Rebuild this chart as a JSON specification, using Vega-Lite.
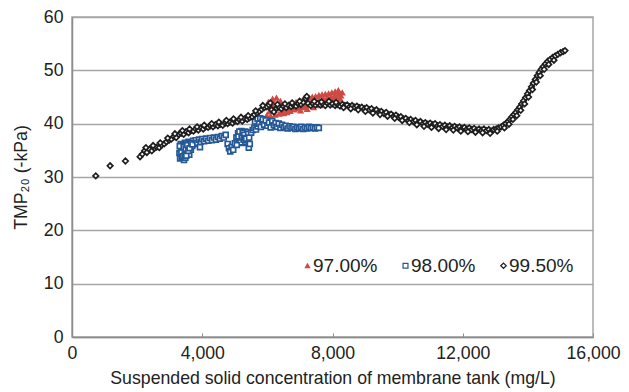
{
  "$schema": "https://vega.github.io/schema/vega-lite/v6.json",
  "width": 521,
  "height": 320,
  "autosize": {"type": "none"},
  "padding": {"left": 72, "top": 17, "right": 36, "bottom": 55},
  "background": "white",
  "config": {
    "font": "Liberation Sans",
    "view": {"stroke": "#a6a6a6", "strokeWidth": 1.5},
    "axis": {"labelColor": "#222222", "titleColor": "#222222", "labelFont": "Liberation Sans", "titleFont": "Liberation Sans", "titleFontWeight": "normal"},
    "legend": {"title": null, "orient": "none", "legendX": 226, "legendY": 239, "direction": "horizontal", "labelFontSize": 19, "labelColor": "#222222", "labelOffset": -4, "columnPadding": 18, "padding": 0, "symbolStrokeWidth": 1.2}
  },
  "data": {
    "values": [
      {"s":"97.00%","x":5980,"y":41.5},{"s":"97.00%","x":6000,"y":43.0},{"s":"97.00%","x":6030,"y":44.0},{"s":"97.00%","x":6060,"y":42.2},
      {"s":"97.00%","x":6100,"y":41.4},{"s":"97.00%","x":6130,"y":43.6},{"s":"97.00%","x":6160,"y":44.6},{"s":"97.00%","x":6200,"y":42.5},
      {"s":"97.00%","x":6240,"y":41.6},{"s":"97.00%","x":6280,"y":44.8},{"s":"97.00%","x":6320,"y":43.0},{"s":"97.00%","x":6360,"y":41.8},
      {"s":"97.00%","x":6400,"y":44.2},{"s":"97.00%","x":6450,"y":42.2},{"s":"97.00%","x":6500,"y":41.9},{"s":"97.00%","x":6550,"y":42.5},
      {"s":"97.00%","x":6600,"y":42.1},{"s":"97.00%","x":6650,"y":42.6},{"s":"97.00%","x":6700,"y":42.3},{"s":"97.00%","x":6760,"y":42.9},
      {"s":"97.00%","x":6820,"y":42.6},{"s":"97.00%","x":6880,"y":43.1},{"s":"97.00%","x":6940,"y":42.8},{"s":"97.00%","x":7000,"y":43.3},
      {"s":"97.00%","x":7060,"y":43.0},{"s":"97.00%","x":7120,"y":43.6},{"s":"97.00%","x":7180,"y":43.2},{"s":"97.00%","x":7240,"y":43.8},
      {"s":"97.00%","x":7300,"y":43.5},{"s":"97.00%","x":7360,"y":44.0},{"s":"97.00%","x":7420,"y":43.7},{"s":"97.00%","x":7480,"y":44.2},
      {"s":"97.00%","x":7540,"y":43.9},{"s":"97.00%","x":7600,"y":44.4},{"s":"97.00%","x":7660,"y":44.1},{"s":"97.00%","x":7720,"y":44.6},
      {"s":"97.00%","x":7780,"y":44.3},{"s":"97.00%","x":7840,"y":44.8},{"s":"97.00%","x":7900,"y":44.5},{"s":"97.00%","x":7960,"y":45.0},
      {"s":"97.00%","x":8020,"y":44.7},{"s":"97.00%","x":8080,"y":45.3},{"s":"97.00%","x":8140,"y":45.0},{"s":"97.00%","x":8200,"y":45.6},
      {"s":"97.00%","x":8260,"y":45.2},{"s":"97.00%","x":8300,"y":45.8},
      {"s":"97.00%","x":6580,"y":43.2},{"s":"97.00%","x":6680,"y":43.5},{"s":"97.00%","x":6780,"y":43.7},{"s":"97.00%","x":6880,"y":44.0},
      {"s":"97.00%","x":6980,"y":44.2},{"s":"97.00%","x":7080,"y":44.4},{"s":"97.00%","x":7180,"y":44.6},{"s":"97.00%","x":7280,"y":44.8},
      {"s":"97.00%","x":7380,"y":45.0},{"s":"97.00%","x":7480,"y":45.1},{"s":"97.00%","x":7580,"y":45.3},{"s":"97.00%","x":7680,"y":45.4},
      {"s":"97.00%","x":7780,"y":45.5},{"s":"97.00%","x":7880,"y":45.6},{"s":"97.00%","x":7980,"y":45.8},{"s":"97.00%","x":8080,"y":46.0},
      {"s":"97.00%","x":8180,"y":46.2},{"s":"97.00%","x":8240,"y":44.6},{"s":"97.00%","x":7020,"y":42.4},{"s":"97.00%","x":7220,"y":42.7},
      {"s":"97.00%","x":7420,"y":43.0},{"s":"97.00%","x":7620,"y":43.4},{"s":"97.00%","x":7820,"y":43.8},{"s":"97.00%","x":8020,"y":44.1},
      {"s":"97.00%","x":6420,"y":43.4},{"s":"97.00%","x":6180,"y":43.9},{"s":"97.00%","x":6260,"y":43.0},

      {"s":"98.00%","x":3300,"y":34.5},{"s":"98.00%","x":3320,"y":33.5},{"s":"98.00%","x":3340,"y":36.2},{"s":"98.00%","x":3350,"y":35.2},
      {"s":"98.00%","x":3370,"y":33.8},{"s":"98.00%","x":3390,"y":34.9},{"s":"98.00%","x":3400,"y":36.0},{"s":"98.00%","x":3420,"y":34.4},
      {"s":"98.00%","x":3440,"y":33.2},{"s":"98.00%","x":3450,"y":35.0},{"s":"98.00%","x":3470,"y":36.4},{"s":"98.00%","x":3480,"y":33.6},
      {"s":"98.00%","x":3500,"y":36.3},{"s":"98.00%","x":3520,"y":35.5},{"s":"98.00%","x":3530,"y":34.8},{"s":"98.00%","x":3560,"y":35.6},
      {"s":"98.00%","x":3580,"y":36.6},{"s":"98.00%","x":3600,"y":34.2},{"s":"98.00%","x":3620,"y":36.5},{"s":"98.00%","x":3640,"y":35.6},
      {"s":"98.00%","x":3650,"y":35.1},{"s":"98.00%","x":3690,"y":35.8},{"s":"98.00%","x":3720,"y":36.8},{"s":"98.00%","x":3760,"y":36.2},
      {"s":"98.00%","x":3310,"y":35.8},{"s":"98.00%","x":3360,"y":34.6},{"s":"98.00%","x":3410,"y":33.9},{"s":"98.00%","x":3430,"y":35.6},
      {"s":"98.00%","x":3460,"y":34.2},{"s":"98.00%","x":3490,"y":35.3},{"s":"98.00%","x":3510,"y":34.0},{"s":"98.00%","x":3540,"y":36.0},
      {"s":"98.00%","x":3570,"y":34.9},{"s":"98.00%","x":3610,"y":35.4},{"s":"98.00%","x":3660,"y":36.3},{"s":"98.00%","x":3700,"y":36.1},
      {"s":"98.00%","x":3800,"y":36.9},{"s":"98.00%","x":3850,"y":36.4},{"s":"98.00%","x":3900,"y":37.0},{"s":"98.00%","x":3930,"y":35.6},
      {"s":"98.00%","x":3950,"y":36.6},{"s":"98.00%","x":4000,"y":37.1},{"s":"98.00%","x":4060,"y":36.7},{"s":"98.00%","x":4120,"y":37.2},
      {"s":"98.00%","x":4180,"y":36.8},{"s":"98.00%","x":4240,"y":37.3},{"s":"98.00%","x":4300,"y":36.9},{"s":"98.00%","x":4360,"y":37.4},
      {"s":"98.00%","x":4420,"y":37.0},{"s":"98.00%","x":4480,"y":37.5},{"s":"98.00%","x":4540,"y":37.2},{"s":"98.00%","x":4600,"y":37.7},
      {"s":"98.00%","x":4660,"y":37.4},{"s":"98.00%","x":4720,"y":37.9},{"s":"98.00%","x":4780,"y":36.2},{"s":"98.00%","x":4820,"y":35.4},
      {"s":"98.00%","x":4860,"y":34.8},{"s":"98.00%","x":4900,"y":35.6},{"s":"98.00%","x":4950,"y":35.1},{"s":"98.00%","x":5000,"y":36.3},
      {"s":"98.00%","x":5050,"y":37.4},{"s":"98.00%","x":5080,"y":36.6},{"s":"98.00%","x":5100,"y":38.2},{"s":"98.00%","x":5130,"y":36.8},
      {"s":"98.00%","x":5160,"y":37.8},{"s":"98.00%","x":5180,"y":37.1},{"s":"98.00%","x":5200,"y":38.6},{"s":"98.00%","x":5230,"y":37.2},
      {"s":"98.00%","x":5250,"y":36.4},{"s":"98.00%","x":5260,"y":38.0},{"s":"98.00%","x":5300,"y":36.6},{"s":"98.00%","x":5320,"y":38.5},
      {"s":"98.00%","x":5330,"y":37.6},{"s":"98.00%","x":5360,"y":38.4},{"s":"98.00%","x":5380,"y":36.9},{"s":"98.00%","x":5400,"y":37.0},
      {"s":"98.00%","x":5110,"y":37.6},{"s":"98.00%","x":5140,"y":38.5},{"s":"98.00%","x":5170,"y":36.5},{"s":"98.00%","x":5210,"y":37.5},
      {"s":"98.00%","x":5240,"y":38.3},{"s":"98.00%","x":5270,"y":37.0},{"s":"98.00%","x":5290,"y":37.9},{"s":"98.00%","x":5310,"y":37.3},
      {"s":"98.00%","x":5350,"y":37.2},{"s":"98.00%","x":5410,"y":38.1},{"s":"98.00%","x":5440,"y":37.4},{"s":"98.00%","x":5060,"y":36.0},
      {"s":"98.00%","x":5430,"y":35.5},{"s":"98.00%","x":5460,"y":36.2},{"s":"98.00%","x":5500,"y":38.3},{"s":"98.00%","x":5550,"y":38.8},
      {"s":"98.00%","x":5600,"y":39.2},{"s":"98.00%","x":5620,"y":40.4},{"s":"98.00%","x":5650,"y":38.9},{"s":"98.00%","x":5700,"y":39.5},
      {"s":"98.00%","x":5700,"y":40.9},{"s":"98.00%","x":5750,"y":40.0},{"s":"98.00%","x":5780,"y":41.0},{"s":"98.00%","x":5800,"y":39.4},
      {"s":"98.00%","x":5850,"y":40.3},{"s":"98.00%","x":5860,"y":40.8},{"s":"98.00%","x":5900,"y":39.8},{"s":"98.00%","x":5950,"y":40.6},
      {"s":"98.00%","x":6000,"y":39.6},{"s":"98.00%","x":6050,"y":40.2},{"s":"98.00%","x":6100,"y":39.3},{"s":"98.00%","x":6150,"y":40.5},
      {"s":"98.00%","x":6200,"y":39.7},{"s":"98.00%","x":6250,"y":40.1},{"s":"98.00%","x":6300,"y":39.4},{"s":"98.00%","x":6350,"y":40.0},
      {"s":"98.00%","x":6400,"y":39.2},{"s":"98.00%","x":6450,"y":39.8},{"s":"98.00%","x":6500,"y":39.3},{"s":"98.00%","x":6560,"y":39.6},
      {"s":"98.00%","x":6620,"y":39.1},{"s":"98.00%","x":6680,"y":39.5},{"s":"98.00%","x":6740,"y":39.2},{"s":"98.00%","x":6800,"y":39.4},
      {"s":"98.00%","x":6860,"y":39.0},{"s":"98.00%","x":6920,"y":39.3},{"s":"98.00%","x":6980,"y":39.1},{"s":"98.00%","x":7040,"y":39.4},
      {"s":"98.00%","x":7100,"y":39.0},{"s":"98.00%","x":7160,"y":39.3},{"s":"98.00%","x":7220,"y":39.1},{"s":"98.00%","x":7280,"y":39.4},
      {"s":"98.00%","x":7340,"y":39.2},{"s":"98.00%","x":7400,"y":39.3},{"s":"98.00%","x":7460,"y":39.1},{"s":"98.00%","x":7520,"y":39.3},
      {"s":"98.00%","x":7580,"y":39.2},

      {"s":"99.50%","x":730,"y":30.2},{"s":"99.50%","x":1170,"y":32.1},{"s":"99.50%","x":1640,"y":33.0},{"s":"99.50%","x":2090,"y":33.8},
      {"s":"99.50%","x":2160,"y":34.3},{"s":"99.50%","x":2230,"y":34.9},{"s":"99.50%","x":2300,"y":34.6},{"s":"99.50%","x":2380,"y":35.2},
      {"s":"99.50%","x":2450,"y":34.9},{"s":"99.50%","x":2530,"y":35.4},{"s":"99.50%","x":2600,"y":35.6},{"s":"99.50%","x":2680,"y":35.5},
      {"s":"99.50%","x":2750,"y":36.0},{"s":"99.50%","x":2830,"y":36.2},{"s":"99.50%","x":2900,"y":36.6},{"s":"99.50%","x":2980,"y":36.9},
      {"s":"99.50%","x":3050,"y":37.1},{"s":"99.50%","x":3130,"y":37.6},{"s":"99.50%","x":3200,"y":37.4},{"s":"99.50%","x":3280,"y":38.0},
      {"s":"99.50%","x":3350,"y":38.2},{"s":"99.50%","x":3430,"y":38.0},{"s":"99.50%","x":3500,"y":38.5},{"s":"99.50%","x":3580,"y":38.3},
      {"s":"99.50%","x":3650,"y":38.7},{"s":"99.50%","x":3730,"y":38.6},{"s":"99.50%","x":3800,"y":39.0},{"s":"99.50%","x":3880,"y":38.8},
      {"s":"99.50%","x":3950,"y":39.2},{"s":"99.50%","x":4030,"y":39.0},{"s":"99.50%","x":4100,"y":39.4},{"s":"99.50%","x":4180,"y":39.3},
      {"s":"99.50%","x":4250,"y":39.6},{"s":"99.50%","x":4330,"y":39.4},{"s":"99.50%","x":4400,"y":39.8},{"s":"99.50%","x":4480,"y":39.6},
      {"s":"99.50%","x":4550,"y":39.9},{"s":"99.50%","x":4630,"y":39.7},{"s":"99.50%","x":4700,"y":40.1},{"s":"99.50%","x":4780,"y":40.0},
      {"s":"99.50%","x":4850,"y":40.3},{"s":"99.50%","x":4930,"y":40.1},{"s":"99.50%","x":5000,"y":40.5},{"s":"99.50%","x":5080,"y":40.4},
      {"s":"99.50%","x":5150,"y":40.7},{"s":"99.50%","x":5230,"y":40.5},{"s":"99.50%","x":5300,"y":40.9},{"s":"99.50%","x":5380,"y":40.8},
      {"s":"99.50%","x":5450,"y":41.1},{"s":"99.50%","x":5530,"y":41.3},{"s":"99.50%","x":5600,"y":41.7},{"s":"99.50%","x":5680,"y":42.0},
      {"s":"99.50%","x":5750,"y":42.3},{"s":"99.50%","x":5830,"y":42.7},{"s":"99.50%","x":5900,"y":43.0},{"s":"99.50%","x":5980,"y":43.2},
      {"s":"99.50%","x":6050,"y":43.5},{"s":"99.50%","x":6130,"y":42.6},{"s":"99.50%","x":6200,"y":42.2},{"s":"99.50%","x":6280,"y":42.9},
      {"s":"99.50%","x":6350,"y":43.1},{"s":"99.50%","x":6430,"y":42.8},{"s":"99.50%","x":6500,"y":43.2},{"s":"99.50%","x":6580,"y":43.0},
      {"s":"99.50%","x":6650,"y":43.4},{"s":"99.50%","x":6730,"y":43.2},{"s":"99.50%","x":6800,"y":43.5},{"s":"99.50%","x":6880,"y":43.3},
      {"s":"99.50%","x":6950,"y":43.7},{"s":"99.50%","x":7030,"y":43.6},{"s":"99.50%","x":7100,"y":44.0},{"s":"99.50%","x":7180,"y":44.7},
      {"s":"99.50%","x":7250,"y":43.8},{"s":"99.50%","x":7330,"y":43.4},{"s":"99.50%","x":7400,"y":43.7},{"s":"99.50%","x":7480,"y":43.5},
      {"s":"99.50%","x":7550,"y":43.8},{"s":"99.50%","x":7630,"y":43.5},{"s":"99.50%","x":7700,"y":43.7},{"s":"99.50%","x":7780,"y":43.4},
      {"s":"99.50%","x":7850,"y":43.8},{"s":"99.50%","x":7930,"y":43.5},{"s":"99.50%","x":8000,"y":43.7},{"s":"99.50%","x":8080,"y":43.4},
      {"s":"99.50%","x":8150,"y":43.6},{"s":"99.50%","x":8230,"y":43.3},{"s":"99.50%","x":8300,"y":43.6},{"s":"99.50%","x":8380,"y":43.4},
      {"s":"99.50%","x":8450,"y":43.5},{"s":"99.50%","x":8530,"y":43.2},{"s":"99.50%","x":8600,"y":43.4},{"s":"99.50%","x":8680,"y":43.1},
      {"s":"99.50%","x":8750,"y":43.3},{"s":"99.50%","x":8830,"y":43.0},{"s":"99.50%","x":8900,"y":43.1},{"s":"99.50%","x":8980,"y":42.8},
      {"s":"99.50%","x":9050,"y":43.0},{"s":"99.50%","x":9130,"y":42.6},{"s":"99.50%","x":9200,"y":42.8},{"s":"99.50%","x":9280,"y":42.4},
      {"s":"99.50%","x":9350,"y":42.6},{"s":"99.50%","x":9430,"y":42.2},{"s":"99.50%","x":9500,"y":42.3},{"s":"99.50%","x":9580,"y":41.9},
      {"s":"99.50%","x":9650,"y":42.1},{"s":"99.50%","x":9730,"y":41.7},{"s":"99.50%","x":9800,"y":41.8},{"s":"99.50%","x":9880,"y":41.4},
      {"s":"99.50%","x":9950,"y":41.6},{"s":"99.50%","x":10030,"y":41.2},{"s":"99.50%","x":10100,"y":41.3},{"s":"99.50%","x":10180,"y":40.9},
      {"s":"99.50%","x":10250,"y":41.0},{"s":"99.50%","x":10330,"y":40.6},{"s":"99.50%","x":10400,"y":40.8},{"s":"99.50%","x":10480,"y":40.4},
      {"s":"99.50%","x":10550,"y":40.6},{"s":"99.50%","x":10630,"y":40.2},{"s":"99.50%","x":10700,"y":40.4},{"s":"99.50%","x":10780,"y":40.0},
      {"s":"99.50%","x":10850,"y":40.2},{"s":"99.50%","x":10930,"y":39.9},{"s":"99.50%","x":11000,"y":40.1},{"s":"99.50%","x":11080,"y":39.8},
      {"s":"99.50%","x":11150,"y":40.0},{"s":"99.50%","x":11230,"y":39.6},{"s":"99.50%","x":11300,"y":39.8},{"s":"99.50%","x":11380,"y":39.5},
      {"s":"99.50%","x":11450,"y":39.7},{"s":"99.50%","x":11530,"y":39.4},{"s":"99.50%","x":11600,"y":39.6},{"s":"99.50%","x":11680,"y":39.3},
      {"s":"99.50%","x":11750,"y":39.5},{"s":"99.50%","x":11830,"y":39.2},{"s":"99.50%","x":11900,"y":39.4},{"s":"99.50%","x":11980,"y":39.1},
      {"s":"99.50%","x":12050,"y":39.3},{"s":"99.50%","x":12130,"y":39.0},{"s":"99.50%","x":12200,"y":39.2},{"s":"99.50%","x":12280,"y":38.9},
      {"s":"99.50%","x":12350,"y":39.1},{"s":"99.50%","x":12430,"y":38.8},{"s":"99.50%","x":12500,"y":39.0},{"s":"99.50%","x":12580,"y":38.8},
      {"s":"99.50%","x":12650,"y":39.0},{"s":"99.50%","x":12730,"y":38.7},{"s":"99.50%","x":12800,"y":38.9},{"s":"99.50%","x":12880,"y":38.6},
      {"s":"99.50%","x":12950,"y":38.9},{"s":"99.50%","x":13030,"y":39.0},{"s":"99.50%","x":13100,"y":39.2},{"s":"99.50%","x":13180,"y":39.4},
      {"s":"99.50%","x":13250,"y":39.7},{"s":"99.50%","x":13320,"y":40.0},{"s":"99.50%","x":13390,"y":40.4},{"s":"99.50%","x":13450,"y":40.8},
      {"s":"99.50%","x":13510,"y":41.3},{"s":"99.50%","x":13570,"y":41.7},{"s":"99.50%","x":13630,"y":42.1},{"s":"99.50%","x":13690,"y":42.6},
      {"s":"99.50%","x":13750,"y":43.1},{"s":"99.50%","x":13810,"y":43.7},{"s":"99.50%","x":13870,"y":44.3},{"s":"99.50%","x":13930,"y":44.9},
      {"s":"99.50%","x":13990,"y":45.6},{"s":"99.50%","x":14050,"y":46.2},{"s":"99.50%","x":14110,"y":46.9},{"s":"99.50%","x":14170,"y":47.6},
      {"s":"99.50%","x":14230,"y":48.3},{"s":"99.50%","x":14290,"y":49.0},{"s":"99.50%","x":14350,"y":49.6},{"s":"99.50%","x":14410,"y":50.2},
      {"s":"99.50%","x":14470,"y":50.7},{"s":"99.50%","x":14540,"y":51.2},{"s":"99.50%","x":14610,"y":51.7},{"s":"99.50%","x":14680,"y":52.0},
      {"s":"99.50%","x":14760,"y":52.4},{"s":"99.50%","x":14840,"y":52.7},{"s":"99.50%","x":14920,"y":53.0},{"s":"99.50%","x":15000,"y":53.3},
      {"s":"99.50%","x":15080,"y":53.5},{"s":"99.50%","x":15140,"y":53.7},
      {"s":"99.50%","x":2270,"y":35.5},{"s":"99.50%","x":2490,"y":35.9},{"s":"99.50%","x":2710,"y":36.4},{"s":"99.50%","x":2940,"y":37.3},
      {"s":"99.50%","x":3160,"y":38.1},{"s":"99.50%","x":3390,"y":38.7},{"s":"99.50%","x":3610,"y":39.0},{"s":"99.50%","x":3840,"y":39.4},
      {"s":"99.50%","x":4060,"y":39.7},{"s":"99.50%","x":4290,"y":40.0},{"s":"99.50%","x":4510,"y":40.3},{"s":"99.50%","x":4740,"y":40.6},
      {"s":"99.50%","x":4960,"y":40.9},{"s":"99.50%","x":5190,"y":41.2},{"s":"99.50%","x":5410,"y":41.5},{"s":"99.50%","x":5640,"y":42.4},
      {"s":"99.50%","x":5860,"y":43.4},{"s":"99.50%","x":6090,"y":43.9},{"s":"99.50%","x":6310,"y":43.6},{"s":"99.50%","x":6540,"y":43.7},
      {"s":"99.50%","x":6760,"y":43.9},{"s":"99.50%","x":6990,"y":44.2},{"s":"99.50%","x":7210,"y":45.1},{"s":"99.50%","x":7440,"y":44.2},
      {"s":"99.50%","x":7660,"y":44.1},{"s":"99.50%","x":7890,"y":44.2},{"s":"99.50%","x":8110,"y":44.0},{"s":"99.50%","x":8340,"y":43.0},
      {"s":"99.50%","x":8560,"y":42.8},{"s":"99.50%","x":8790,"y":42.6},{"s":"99.50%","x":9010,"y":42.3},{"s":"99.50%","x":9240,"y":42.0},
      {"s":"99.50%","x":9460,"y":41.7},{"s":"99.50%","x":9690,"y":41.4},{"s":"99.50%","x":9910,"y":41.0},{"s":"99.50%","x":10140,"y":40.6},
      {"s":"99.50%","x":10360,"y":40.2},{"s":"99.50%","x":10590,"y":39.8},{"s":"99.50%","x":10810,"y":39.5},{"s":"99.50%","x":11040,"y":39.3},
      {"s":"99.50%","x":11260,"y":39.1},{"s":"99.50%","x":11490,"y":38.9},{"s":"99.50%","x":11710,"y":38.8},{"s":"99.50%","x":11940,"y":38.6},
      {"s":"99.50%","x":12160,"y":38.5},{"s":"99.50%","x":12390,"y":38.4},{"s":"99.50%","x":12610,"y":38.3},{"s":"99.50%","x":12840,"y":38.2},
      {"s":"99.50%","x":13060,"y":38.6},{"s":"99.50%","x":13280,"y":39.2},{"s":"99.50%","x":13420,"y":39.9},{"s":"99.50%","x":13540,"y":40.8},
      {"s":"99.50%","x":13660,"y":41.5},{"s":"99.50%","x":13780,"y":42.5},{"s":"99.50%","x":13900,"y":43.7},{"s":"99.50%","x":14020,"y":45.0},
      {"s":"99.50%","x":14140,"y":46.4},{"s":"99.50%","x":14260,"y":47.8},{"s":"99.50%","x":14380,"y":49.0},{"s":"99.50%","x":14500,"y":50.2},
      {"s":"99.50%","x":14640,"y":51.1},{"s":"99.50%","x":14800,"y":51.9}
    ]
  },
  "mark": {"type": "point", "filled": false, "strokeWidth": 1.7, "opacity": 1},
  "encoding": {
    "x": {
      "field": "x", "type": "quantitative",
      "scale": {"domain": [0, 16000], "nice": false},
      "axis": {
        "title": "Suspended solid concentration of membrane tank (mg/L)",
        "values": [0, 4000, 8000, 12000, 16000],
        "format": ",d",
        "grid": false,
        "domainColor": "#8c8c8c", "domainWidth": 1.5,
        "ticks": true, "tickSize": -4, "tickColor": "#8c8c8c", "tickWidth": 1,
        "labelFontSize": 17.7, "labelPadding": 11, "labelFlush": false,
        "titleFontSize": 17.7, "titlePadding": 8
      }
    },
    "y": {
      "field": "y", "type": "quantitative",
      "scale": {"domain": [0, 60], "nice": false},
      "axis": {
        "title": "TMP₂₀ (-kPa)",
        "values": [0, 10, 20, 30, 40, 50, 60],
        "grid": true, "gridColor": "#a6a6a6", "gridWidth": 1.5,
        "domainColor": "#8c8c8c", "domainWidth": 1.5,
        "ticks": false,
        "labelFontSize": 17.7, "labelPadding": 9,
        "titleFontSize": 17.7, "titlePadding": 13
      }
    },
    "shape": {
      "field": "s", "type": "nominal",
      "scale": {"domain": ["97.00%", "98.00%", "99.50%"], "range": ["triangle-up", "square", "diamond"]}
    },
    "stroke": {
      "field": "s", "type": "nominal",
      "scale": {"domain": ["97.00%", "98.00%", "99.50%"], "range": ["#cf4a45", "#245896", "#1e1e1e"]}
    },
    "fill": {
      "field": "s", "type": "nominal",
      "scale": {"domain": ["97.00%", "98.00%", "99.50%"], "range": ["#cf4a45", "#ffffff", "#ffffff"]}
    },
    "size": {
      "field": "s", "type": "nominal",
      "scale": {"domain": ["97.00%", "98.00%", "99.50%"], "range": [18, 30, 46]}
    }
  }
}
